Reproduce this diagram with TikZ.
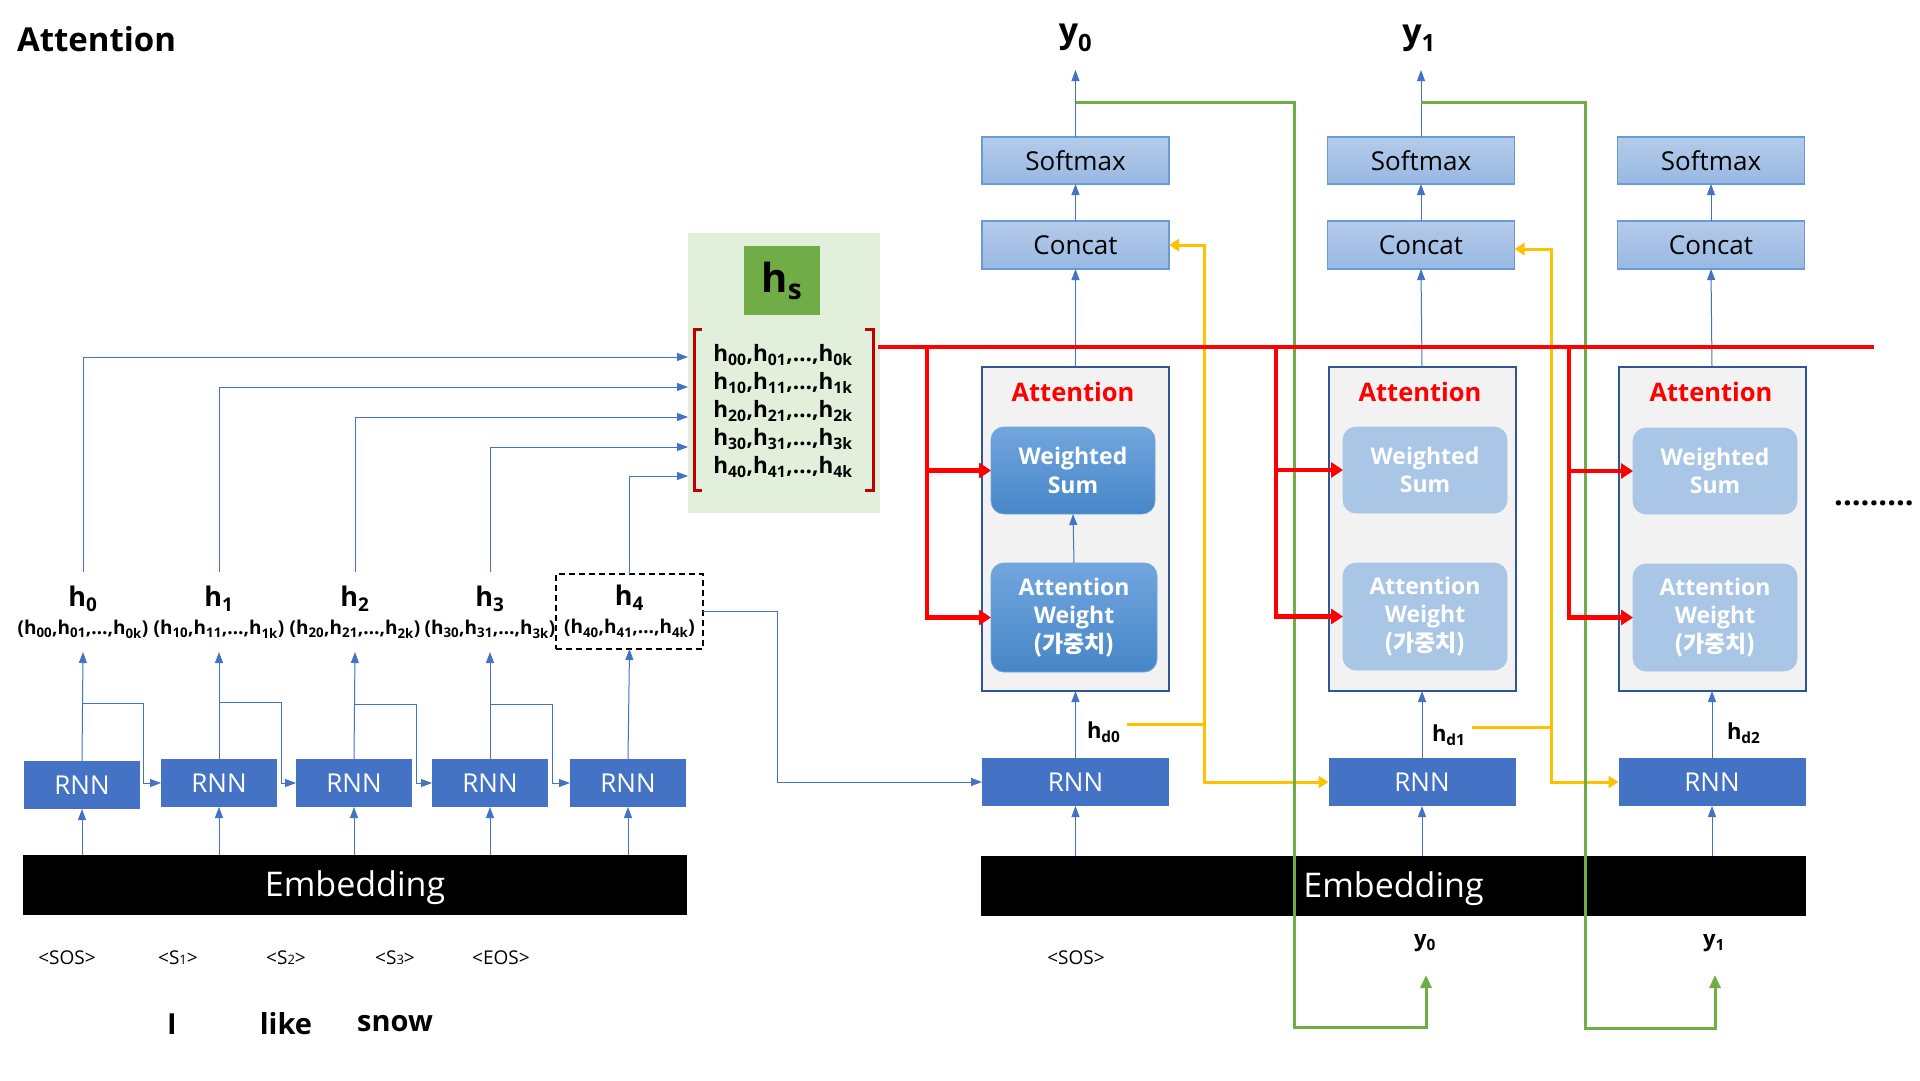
\documentclass[tikz,border=0pt]{standalone}
\usepackage{fontspec}
\setmainfont{Open Sans}
\newfontfamily\krfont{Noto Sans CJK KR}
\usetikzlibrary{arrows.meta,calc}
\newcommand\fsz[2]{\fontsize{#1}{#2}\selectfont}
\newcommand\hlabel[1]{{\fsz{27}{28}\bfseries h\textsubscript{#1}}\\{\bfseries (h\textsubscript{#10},h\textsubscript{#11},…,h\textsubscript{#1k})}}
\definecolor{rnnblue}{HTML}{4472C4}
\definecolor{lineblue}{HTML}{4472C4}
\definecolor{boxtop}{HTML}{B4CBEA}
\definecolor{boxbot}{HTML}{98B8E2}
\definecolor{boxedge}{HTML}{6A9BD6}
\definecolor{attfill}{HTML}{F2F2F2}
\definecolor{attedge}{HTML}{2F5597}
\definecolor{wstop}{HTML}{72A6DE}
\definecolor{wsbot}{HTML}{4686C8}
\definecolor{wsedge}{HTML}{6FA3DA}
\definecolor{wslight}{HTML}{A9C6E6}
\definecolor{ygold}{HTML}{FFC000}
\definecolor{ggreen}{HTML}{70AD47}
\definecolor{lgreen}{HTML}{E2EFDA}
\definecolor{bracketred}{HTML}{C00000}
\tikzset{
 every node/.style={inner sep=0pt, outer sep=0pt},
 rnn/.style={fill=rnnblue, text=white, minimum width=116pt, minimum height=48pt, font=\fsz{26}{30}},
 drnn/.style={rnn, minimum width=187pt},
 sbox/.style={draw=boxedge, line width=1.2pt, top color=boxtop, bottom color=boxbot, minimum width=187pt, minimum height=47pt, font=\fsz{26}{30}},
 attbox/.style={draw=attedge, line width=2pt, fill=attfill, minimum width=187pt, minimum height=324pt},
 atttitle/.style={text=red, font=\bfseries\fsz{25.5}{30}},
 wsdark/.style={rounded corners=13pt, draw=wsedge, line width=0.8pt, top color=wstop, bottom color=wsbot, text=white, font=\bfseries\fsz{23}{28.5}, align=center, minimum width=164pt},
 wslite/.style={wsdark, draw=wslight, top color=wslight, bottom color=wslight},
 emb/.style={fill=black, text=white, font=\fsz{34}{40}, minimum height=60pt, text height=26pt, text depth=4pt},
 hlab/.style={align=center, minimum width=147pt, minimum height=80pt, font=\fsz{19}{28}},
 tok/.style={font=\fsz{19}{22}},
 word/.style={font=\bfseries\fsz{29}{34}},
 ylab/.style={font=\bfseries\fsz{34}{38}, minimum height=64pt},
 hdlab/.style={font=\bfseries\fsz{22}{26}, anchor=west},
 conn/.style={draw=lineblue, line width=1pt, -{Triangle[length=11pt,width=8pt]}},
 plainln/.style={draw=lineblue, line width=1pt},
 redln/.style={draw=red, line width=4.5pt},
 redar/.style={redln, -{Triangle[length=12pt,width=15pt]}},
 yelln/.style={draw=ygold, line width=3pt},
 yelar/.style={yelln, -{Triangle[length=10pt,width=12pt]}},
 grnln/.style={draw=ggreen, line width=3pt},
 grnar/.style={grnln, -{Triangle[length=13pt,width=11pt]}},
}
\begin{document}
\begin{tikzpicture}[x=1pt,y=-1pt]
\useasboundingbox[fill=white] (0,0) rectangle (1920,1080);
% title
\node[anchor=west, font=\bfseries\fsz{33}{38}] (title) at (17,39) {Attention};

% ---------------- encoder ----------------
\node[rnn] (e0) at (82,785) {RNN};
\node[rnn] (e1) at (219,783) {RNN};
\node[rnn] (e2) at (354,783) {RNN};
\node[rnn] (e3) at (490,783) {RNN};
\node[rnn] (e4) at (628,783) {RNN};
\node[emb, minimum width=664pt] (embL) at (355,885) {Embedding};

\node[hlab] (h0) at (83,612) {\hlabel{0}};
\node[hlab] (h1) at (219,612) {\hlabel{1}};
\node[hlab] (h2) at (355,612) {\hlabel{2}};
\node[hlab] (h3) at (490,612) {\hlabel{3}};
\node[hlab, draw=black, dashed, line width=1.6pt, minimum height=75pt, dash pattern=on 6pt off 4pt] (h4) at (629.5,611.5) {\hlabel{4}};

\node[tok] (s0) at (67,958) {<SOS>};
\node[tok] (s1) at (178,958) {<S{\fsz{13}{14}1}>};
\node[tok] (s2) at (286,958) {<S{\fsz{13}{14}2}>};
\node[tok] (s3) at (395,958) {<S{\fsz{13}{14}3}>};
\node[tok] (s4) at (501,958) {<EOS>};
\node[word] (w1) at (172,1024) {I};
\node[word] (w2) at (286,1024) {like};
\node[word] (w3) at (395,1024) {snow};

% hs block
\node[fill=lgreen, minimum width=192pt, minimum height=280pt] (hsbg) at (784,373) {};
\node[fill=ggreen, minimum width=76pt, minimum height=69pt, font=\bfseries\fsz{40}{44}] (hs) at (782,280.5) {h\textsubscript{s}};
\node[font=\bfseries\fsz{22.5}{28}, align=center] (mat) at (783,411) {%
h\textsubscript{00},h\textsubscript{01},…,h\textsubscript{0k}\\
h\textsubscript{10},h\textsubscript{11},…,h\textsubscript{1k}\\
h\textsubscript{20},h\textsubscript{21},…,h\textsubscript{2k}\\
h\textsubscript{30},h\textsubscript{31},…,h\textsubscript{3k}\\
h\textsubscript{40},h\textsubscript{41},…,h\textsubscript{4k}};
\node[minimum width=179pt, minimum height=161pt] (brk) at (783.5,409.5) {};
\draw[bracketred, line width=3pt] ([xshift=8pt]brk.north west) -- (brk.north west) -- (brk.south west) -- ([xshift=8pt]brk.south west);
\draw[bracketred, line width=3pt] ([xshift=-8pt]brk.north east) -- (brk.north east) -- (brk.south east) -- ([xshift=-8pt]brk.south east);

\coordinate (in0) at (688,357);
\coordinate (in1) at (688,387);
\coordinate (in2) at (688,417);
\coordinate (in3) at (688,447);
\coordinate (in4) at (688,476);

% encoder connectors
\foreach \i in {0,...,4}{
  \draw[conn] (embL.north -| e\i) -- (e\i.south);
  \draw[conn] (e\i.north) -- (h\i.south);
  \draw[conn] (h\i.north) |- (in\i);
}
\draw[conn] (e0.north |- 0,703) -- (143,703) |- (e1.west);
\draw[conn] (e1.north |- 0,702) -- (281,702) |- (e2.west);
\draw[conn] (e2.north |- 0,704) -- (416,704) |- (e3.west);
\draw[conn] (e3.north |- 0,704) -- (552,704) |- (e4.west);

% ---------------- decoder ----------------
% column 0
\node[sbox] (sm0) at (1075.5,160.5) {Softmax};
\node[sbox, minimum height=48pt] (cc0) at (1075.5,245) {Concat};
\node[attbox] (at0) at (1075.5,529) {};
\node[atttitle] (an0) at (1073,392) {Attention};
\node[wsdark, minimum height=87pt] (ws0) at (1073,470.5) {Weighted\\Sum};
\node[wsdark, minimum height=109pt, minimum width=166pt] (aw0) at (1074,617.5) {Attention\\Weight\\{\krfont\bfseries (가중치)}};
\node[drnn] (d0) at (1075.5,782) {RNN};
\node[ylab] (y0t) at (1075.5,38) {y\textsubscript{0}};
\node[hdlab] (hd0) at (1087,732) {h\textsubscript{d0}};
% column 1
\node[sbox] (sm1) at (1421,160.5) {Softmax};
\node[sbox, minimum height=48pt] (cc1) at (1421,245) {Concat};
\node[attbox] (at1) at (1422,529) {};
\node[atttitle] (an1) at (1420,392) {Attention};
\node[wslite, minimum height=86pt] (ws1) at (1425,470) {Weighted\\Sum};
\node[wslite, minimum height=107pt] (aw1) at (1425,616.5) {Attention\\Weight\\{\krfont\bfseries (가중치)}};
\node[drnn] (d1) at (1422,782) {RNN};
\node[ylab] (y1t) at (1419,38) {y\textsubscript{1}};
\node[hdlab] (hd1) at (1432,735) {h\textsubscript{d1}};
% column 2
\node[sbox] (sm2) at (1711,160.5) {Softmax};
\node[sbox, minimum height=48pt] (cc2) at (1711,245) {Concat};
\node[attbox] (at2) at (1712,529) {};
\node[atttitle] (an2) at (1711,392) {Attention};
\node[wslite, minimum height=86pt] (ws2) at (1715,471) {Weighted\\Sum};
\node[wslite, minimum height=107pt] (aw2) at (1715,617.5) {Attention\\Weight\\{\krfont\bfseries (가중치)}};
\node[drnn] (d2) at (1712,782) {RNN};
\node[hdlab] (hd2) at (1727,733) {h\textsubscript{d2}};

\node[emb, minimum width=825pt] (embR) at (1393.5,886) {Embedding};
\node[tok] (sosd) at (1076,958) {<SOS>};
\node[font=\bfseries\fsz{22}{26}] (yb0) at (1425,943) {y\textsubscript{0}};
\node[font=\bfseries\fsz{22}{26}] (yb1) at (1714,943) {y\textsubscript{1}};
\node[font=\bfseries\fsz{31}{34}] (dots) at (1874,503) {.........};

% decoder blue connectors
\foreach \i in {0,1,2}{
  \draw[conn] (embR.north -| d\i) -- (d\i.south);
  \draw[conn] (d\i.north) -- (at\i.south);
  \draw[conn] (at\i.north) -- (cc\i.south);
  \draw[conn] (cc\i.north) -- (sm\i.south);
}
\draw[conn] (sm0.north) -- (y0t.south);
\draw[conn] (sm1.north) -- (sm1.north |- y1t.south);
\draw[conn] (aw0.north) -- (ws0.south);
\draw[conn] (h4.east) -- ++(74,0) |- (d0.west);

% yellow
\coordinate (yj0) at (1204,724);
\coordinate (yj1) at (1551,727);
\draw[yelln] (hd0.east |- yj0) ++(6,0) -- (yj0);
\draw[yelar] (yj0) |- (cc0.east);
\draw[yelar] (yj0) |- (d1.west);
\draw[yelln] (hd1.east |- yj1) ++(6,0) -- (yj1);
\draw[yelar] (yj1) |- ([yshift=-4pt]cc1.east);
\draw[yelar] (yj1) |- (d2.west);

% green
\coordinate (g0a) at (1294,102);
\coordinate (g0b) at (1294,1027);
\coordinate (g0t) at (1426,975);
\coordinate (g1a) at (1585,102);
\coordinate (g1b) at (1585,1028);
\coordinate (g1t) at (1715,975);
\draw[grnar] (sm0.north |- g0a) -- (g0a) -- (g0b) -| (g0t);
\draw[grnar] (sm1.north |- g1a) -- (g1a) -- (g1b) -| (g1t);

% red bus
\coordinate (busL) at (878,347);
\coordinate (busR) at (1874,347);
\coordinate (rv0) at (927,347);
\coordinate (rv1) at (1276,347);
\coordinate (rv2) at (1569,347);
\draw[redln] (busL) -- (busR);
\foreach \i in {0,1,2}{
  \draw[redar] (rv\i) |- (aw\i.west);
  \draw[redar] (rv\i |- ws\i.west) -- (ws\i.west);
}
\end{tikzpicture}
\end{document}
